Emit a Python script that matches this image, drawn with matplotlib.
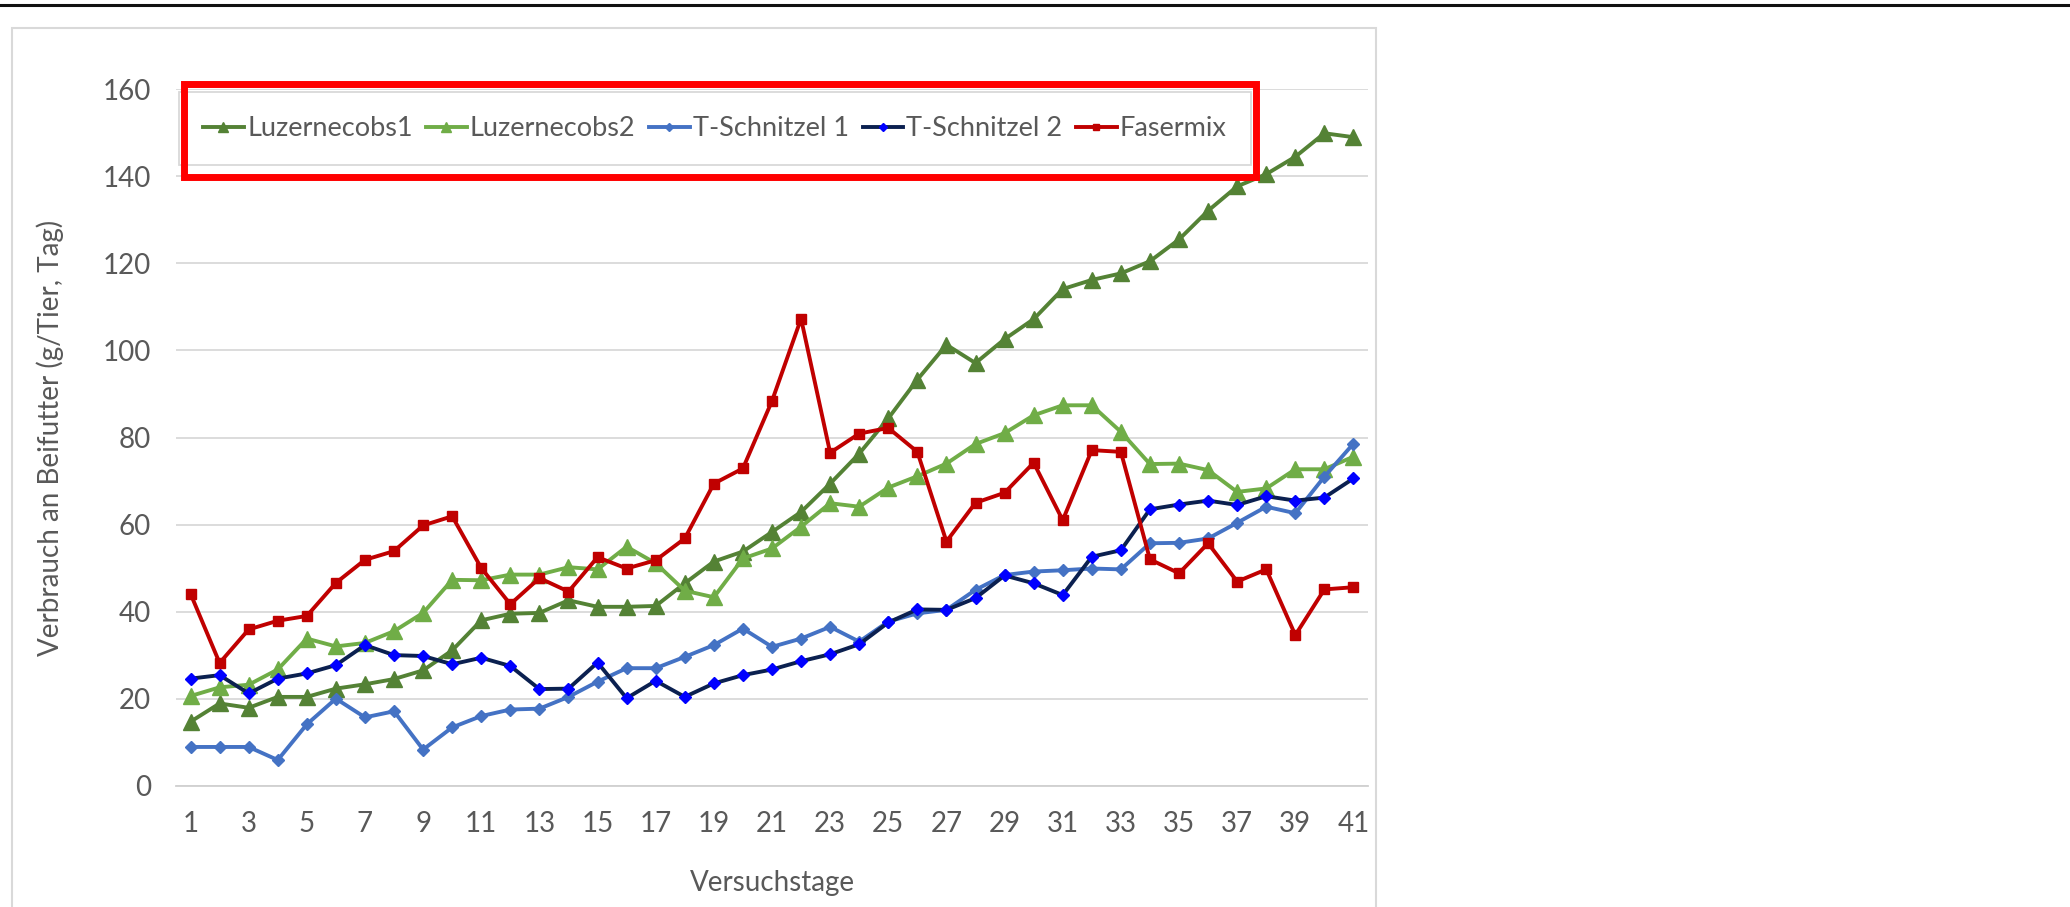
import matplotlib.pyplot as plt
import matplotlib.patches as patches
from matplotlib.lines import Line2D

plt.rcParams['font.family'] = ['Lato', 'DejaVu Sans']

# Versuchstage 1..41
days = list(range(1, 42))
xticks = list(range(1, 42, 2))
yticks = [0, 20, 40, 60, 80, 100, 120, 140, 160]

luzernecobs1 = [14.7, 18.9, 17.9, 20.4, 20.4, 22.3, 23.3, 24.5, 26.5, 31.1,
                38.0, 39.5, 39.7, 42.6, 41.1, 41.1, 41.3, 46.5, 51.5, 53.8,
                58.3, 62.9, 69.4, 76.3, 84.4, 93.3, 101.3, 97.1, 102.6, 107.2,
                114.1, 116.2, 117.7, 120.5, 125.5, 132.1, 137.7, 140.5, 144.5, 149.9, 149.0]
luzernecobs2 = [20.6, 22.6, 23.2, 26.7, 33.8, 32.0, 32.8, 35.5, 39.7, 47.3,
                47.2, 48.5, 48.5, 50.2, 49.7, 54.9, 51.1, 44.8, 43.3, 52.2,
                54.5, 59.5, 64.9, 64.1, 68.5, 71.1, 74.0, 78.5, 81.0, 85.1,
                87.4, 87.4, 81.3, 73.9, 74.0, 72.5, 67.5, 68.3, 72.7, 72.7, 75.6]
tschnitzel1 = [8.9, 8.9, 8.9, 5.9, 14.1, 20.0, 15.7, 17.1, 8.3, 13.4,
               16.0, 17.5, 17.7, 20.4, 23.9, 27.0, 27.0, 29.6, 32.3, 36.1,
               31.9, 33.8, 36.5, 33.1, 37.7, 39.6, 40.4, 45.0, 48.4, 49.2,
               49.5, 49.9, 49.7, 55.7, 55.8, 56.8, 60.4, 64.1, 62.6, 71.0, 78.6]
tschnitzel2 = [24.6, 25.4, 21.2, 24.6, 25.8, 27.7, 32.3, 30.0, 29.8, 27.9,
               29.4, 27.5, 22.2, 22.3, 28.3, 20.1, 24.1, 20.4, 23.5, 25.4,
               26.7, 28.6, 30.2, 32.5, 37.5, 40.5, 40.4, 43.1, 48.3, 46.5,
               43.8, 52.6, 54.1, 63.5, 64.6, 65.5, 64.5, 66.5, 65.5, 66.2, 70.6]
fasermix = [44.1, 28.2, 35.9, 37.9, 39.0, 46.6, 51.9, 53.9, 59.8, 61.9,
            50.0, 41.7, 47.7, 44.6, 52.5, 49.9, 51.8, 56.8, 69.4, 72.9,
            88.4, 107.3, 76.5, 80.9, 82.2, 76.7, 56.1, 65.0, 67.3, 74.2,
            61.0, 77.1, 76.7, 52.0, 48.8, 55.7, 46.9, 49.7, 34.6, 45.1, 45.6]

W, H = 2070, 907
txt = '#595959'
fs = 20

fig = plt.figure(figsize=(W / 100, H / 100), dpi=100)

# helper: pixel coords (from top-left) -> figure fraction
def fx(px):
    return px / W

def fy(py):
    return 1 - py / H

# black rule at the very top
fig.add_artist(Line2D([0, 1], [fy(5), fy(5)], color='#111111', lw=2.2))
# light chart frame
fig.add_artist(patches.Rectangle((fx(12), fy(960)), fx(1376) - fx(12), fy(28) - fy(960),
                                 fill=False, edgecolor='#d9d9d9', lw=1.5))

ax = fig.add_axes([fx(176), fy(785.7), fx(1368) - fx(176), fy(89.3) - fy(785.7)])

lw = 2.8
ax.plot(days, luzernecobs1, color='#548235', lw=lw, marker='^', ms=11, label='Luzernecobs1')
ax.plot(days, luzernecobs2, color='#70ad47', lw=lw, marker='^', ms=11, label='Luzernecobs2')
ax.plot(days, tschnitzel1, color='#4472c4', lw=lw, marker='D', ms=6.5, label='T-Schnitzel 1')
ax.plot(days, tschnitzel2, color='#0b2050', lw=lw, marker='D', ms=6.5,
        mfc='#0000ff', mec='#0000ff', label='T-Schnitzel 2')
ax.plot(days, fasermix, color='#c00000', lw=lw, marker='s', ms=6.5, label='Fasermix')

ax.set_xlim(0.5, 41.5)
ax.set_ylim(0, 160)
ax.set_xticks(xticks)
ax.set_yticks(yticks)
ax.grid(axis='y', color='#d9d9d9', lw=1.3)
ax.set_axisbelow(True)
for s in ['top', 'left', 'right']:
    ax.spines[s].set_visible(False)
ax.spines['bottom'].set_color('#d0d0d0')
ax.spines['bottom'].set_linewidth(1.3)
ax.tick_params(axis='both', length=0, labelsize=fs, labelcolor=txt)
ax.tick_params(axis='y', pad=18)
ax.tick_params(axis='x', pad=18)

fig.text(fx(772), fy(883), 'Versuchstage', ha='center', va='center', fontsize=fs, color=txt)
fig.text(fx(50), fy(437.5), 'Verbrauch an Beifutter (g/Tier, Tag)', ha='center', va='center',
         rotation=90, fontsize=fs, color=txt)

leg = ax.legend(loc='center', bbox_to_anchor=(fx(715), fy(128.5)), bbox_transform=fig.transFigure,
                ncol=5, fontsize=19.5, frameon=True, fancybox=False, edgecolor='#d9d9d9',
                framealpha=1, handlelength=1.5, handletextpad=0.12, columnspacing=0.5,
                borderpad=0.9, labelcolor=txt, markerscale=0.7)
leg.get_frame().set_linewidth(1.3)

# red highlight box around the legend
fig.add_artist(patches.Rectangle((fx(184), fy(176.5)), fx(1255.5) - fx(184), fy(83.5) - fy(176.5),
                                 fill=False, edgecolor='#ff0000', lw=5, zorder=10))

fig.savefig('out.png', dpi=100)
